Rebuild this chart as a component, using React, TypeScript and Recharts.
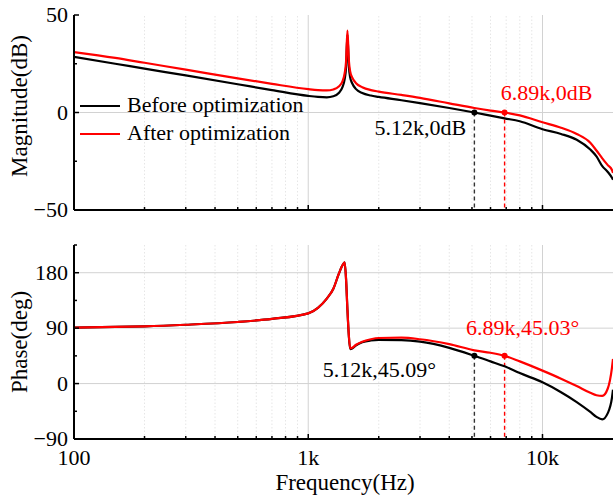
import React from "react";
import {
  Legend,
  Line,
  LineChart,
  ReferenceDot,
  ReferenceLine,
  XAxis,
  YAxis,
} from "recharts";

const freq = [
  100, 150, 200, 300, 500, 700, 1000, 1100, 1200, 1280, 1350, 1400, 1430, 1450,
  1470, 1490, 1510, 1540, 1600, 1700, 1850, 2000, 2500, 3000, 4000, 5120, 6000,
  6890, 8000, 10000, 12000, 14000, 16000, 17000, 18000, 19000, 19800, 20000,
];

const magBefore = [
  28.5, 25, 22.5, 19, 14.5, 11.5, 8.5, 8, 7.8, 8.3, 10, 13, 17, 23, 40, 24, 18,
  15, 12, 10, 8.7, 8, 6.3, 4.8, 2.3, 0, -1.6, -3, -4.5, -8.6, -11, -14, -19,
  -22.5, -27.5, -30.5, -33.5, -34.5,
];

const magAfter = [
  31, 28, 25.5, 22, 17.5, 14.7, 12, 11.5, 11.3, 11.8, 13.3, 16, 20, 26, 42, 27,
  21, 18, 15, 13, 11.5, 10.7, 9, 7.5, 4.7, 2.3, 1, 0, -1.5, -5, -7.8, -11,
  -15.5, -19.5, -23.5, -27, -29.5, -31,
];

const phaseBefore = [
  91, 92, 93, 95.5, 100, 105, 114, 123, 138, 154, 178, 192, 197, 170, 120, 78,
  56, 57, 62, 67, 70, 71, 70.5, 68, 58, 45.09, 36, 28, 17, 2, -14, -30, -46,
  -54, -58, -48, -23, -10,
];

const phaseAfter = [
  91, 92, 93, 95.5, 100, 105, 114, 123, 138, 154, 178, 192, 197, 170, 120, 79,
  57, 58, 63, 68, 72, 74, 74.5, 72, 64, 54, 50, 45.03, 36, 21, 8, -4, -15,
  -19, -20, -8, 26, 40,
];

const xTicks = [
  100, 200, 300, 400, 500, 600, 700, 800, 900, 1000, 2000, 3000, 4000, 5000,
  6000, 7000, 8000, 9000, 10000,
];
const xMajor = [100, 1000, 10000];
const xMinor = xTicks.filter((t) => !xMajor.includes(t));

const magTicks = [-50, -25, 0, 25, 50];
const magLabels = [-50, 0, 50];
const phaseTicks = [-90, -45, 0, 45, 90, 135, 180, 225];
const phaseLabels = [-90, 0, 90, 180];

const crossFreq = [5120, 6890];
const crossPhase = [45.09, 45.03];
const magNotes = ["5.12k,0dB", "6.89k,0dB"];
const phaseNotes = ["5.12k,45.09°", "6.89k,45.03°"];
const colors = ["#000000", "#ff0000"];

const data = freq.map((f, i) => ({
  f,
  magBefore: magBefore[i],
  magAfter: magAfter[i],
  phaseBefore: phaseBefore[i],
  phaseAfter: phaseAfter[i],
}));

const FONT = '"Liberation Serif", "Times New Roman", serif';
const FS = 22;
const TITLE_FS = 23;

const fmtX = (v: number) => (v >= 1000 ? `${v / 1000}k` : `${v}`);
const fmtY = (v: number) => (v < 0 ? `\u2212${-v}` : `${v}`);

function XTick(props: any) {
  const { x, y, payload, side, showLabel } = props;
  const v = payload.value;
  const major = xMajor.includes(v);
  const len = major ? 5 : 3;
  const dir = side === "top" ? 1 : -1;
  return (
    <g>
      <line x1={x} y1={y} x2={x} y2={y + dir * len} stroke="#000" strokeWidth={1.5} />
      {showLabel && major && (
        <text x={x} y={y + 26} textAnchor="middle" fontSize={FS} fontFamily={FONT} fill="#000">
          {fmtX(v)}
        </text>
      )}
    </g>
  );
}

function YTick(props: any) {
  const { x, y, payload, labels } = props;
  const v = payload.value;
  const major = labels.includes(v);
  return (
    <g>
      <line x1={x} y1={y} x2={x + (major ? 5 : 3)} y2={y} stroke="#000" strokeWidth={1.5} />
      {major && (
        <text x={x - 6} y={y + 7} textAnchor="end" fontSize={FS} fontFamily={FONT} fill="#000">
          {fmtY(v)}
        </text>
      )}
    </g>
  );
}

function noteShape(text: string, color: string, dx: number, dy: number) {
  return (p: any) => (
    <g>
      <circle cx={p.cx} cy={p.cy} r={3} fill={color} />
      <text
        x={p.cx + dx}
        y={p.cy + dy}
        textAnchor="middle"
        fontSize={FS}
        fontFamily={FONT}
        fill={color}
      >
        {text}
      </text>
    </g>
  );
}

function LegendBox() {
  return (
    <svg width={260} height={56}>
      <line x1={0} y1={14} x2={40} y2={14} stroke="#000" strokeWidth={2} />
      <text x={47} y={20} fontSize={FS} fontFamily={FONT} fill="#000">
        Before optimization
      </text>
      <line x1={0} y1={42} x2={40} y2={42} stroke="#ff0000" strokeWidth={2} />
      <text x={47} y={48} fontSize={FS} fontFamily={FONT} fill="#000">
        After optimization
      </text>
    </svg>
  );
}

function gridLines(yValues: number[]) {
  return [
    ...xMinor.map((t) => (
      <ReferenceLine key={`m${t}`} x={t} stroke="#e6e6e6" strokeDasharray="1.5 2" strokeWidth={1} />
    )),
    ...xMajor
      .filter((t) => t !== 100)
      .map((t) => <ReferenceLine key={`M${t}`} x={t} stroke="#d2d2d2" strokeWidth={1} />),
    ...yValues.map((v) => <ReferenceLine key={`h${v}`} y={v} stroke="#d2d2d2" strokeWidth={1} />),
  ];
}

const axisLine = { stroke: "#000", strokeWidth: 2 };

function xAxes(showLabel: boolean, height: number) {
  return [
    <XAxis
      key="xb"
      dataKey="f"
      type="number"
      scale="log"
      domain={[100, 20000]}
      allowDataOverflow
      ticks={xTicks}
      interval={0}
      tickSize={0}
      tickMargin={0}
      tickLine={false}
      axisLine={axisLine}
      height={height}
      tick={<XTick side="bottom" showLabel={showLabel} />}
    />,
    <XAxis
      key="xt"
      xAxisId="top"
      orientation="top"
      dataKey="f"
      type="number"
      scale="log"
      domain={[100, 20000]}
      allowDataOverflow
      ticks={xTicks}
      interval={0}
      tickSize={0}
      tickMargin={0}
      tickLine={false}
      axisLine={axisLine}
      height={0}
      tick={<XTick side="top" showLabel={false} />}
    />,
  ];
}

const titleStyle = (cx: number, cy: number, rotate: boolean): React.CSSProperties => ({
  position: "absolute",
  left: cx - 150,
  top: cy - 12,
  width: 300,
  height: 24,
  lineHeight: "24px",
  fontSize: TITLE_FS,
  textAlign: "center",
  transform: rotate ? "rotate(-90deg)" : undefined,
  color: "#000",
});

export default function App() {
  return (
    <div
      style={{
        position: "absolute",
        left: 0,
        top: 0,
        width: 613,
        height: 498,
        background: "#fff",
        fontFamily: FONT,
        overflow: "hidden",
      }}
    >
      <div style={{ position: "absolute", left: 0, top: 0 }}>
        <LineChart width={613} height={225} data={data} margin={{ top: 15, right: 0, bottom: 0, left: 0 }}>
          {gridLines([0])}
          {xAxes(false, 15)}
          <YAxis
            type="number"
            domain={[-50, 50]}
            allowDataOverflow
            ticks={magTicks}
            interval={0}
            width={74}
            tickSize={0}
            tickMargin={0}
            tickLine={false}
            axisLine={axisLine}
            tick={<YTick labels={magLabels} />}
          />
          {crossFreq.map((f, i) => (
            <ReferenceLine
              key={`d${f}`}
              segment={[
                { x: f, y: 0 },
                { x: f, y: -50 },
              ]}
              stroke={i === 0 ? "#333" : colors[i]}
              strokeDasharray="4 3"
              strokeWidth={1.4}
            />
          ))}
          <Line type="monotone" dataKey="magBefore" stroke={colors[0]} strokeWidth={2.2} dot={false} isAnimationActive={false} />
          <Line type="monotone" dataKey="magAfter" stroke={colors[1]} strokeWidth={2.2} dot={false} isAnimationActive={false} />
          <ReferenceDot x={crossFreq[0]} y={0} shape={noteShape(magNotes[0], colors[0], -54, 22)} />
          <ReferenceDot x={crossFreq[1]} y={0} shape={noteShape(magNotes[1], colors[1], 42, -13)} />
          <Legend
            layout="vertical"
            align="center"
            verticalAlign="middle"
            wrapperStyle={{ left: 80, top: 92, width: 260, height: 56 }}
            content={() => <LegendBox />}
          />
        </LineChart>
      </div>
      <div style={{ position: "absolute", left: 0, top: 225 }}>
        <LineChart width={613} height={273} data={data} margin={{ top: 20, right: 0, bottom: 0, left: 0 }}>
          {gridLines([0, 90, 180])}
          {xAxes(true, 59)}
          <YAxis
            type="number"
            domain={[-90, 225]}
            allowDataOverflow
            ticks={phaseTicks}
            interval={0}
            width={74}
            tickSize={0}
            tickMargin={0}
            tickLine={false}
            axisLine={axisLine}
            tick={<YTick labels={phaseLabels} />}
          />
          {crossFreq.map((f, i) => (
            <ReferenceLine
              key={`p${f}`}
              segment={[
                { x: f, y: crossPhase[i] },
                { x: f, y: -90 },
              ]}
              stroke={i === 0 ? "#333" : colors[i]}
              strokeDasharray="4 3"
              strokeWidth={1.4}
            />
          ))}
          <Line type="monotone" dataKey="phaseBefore" stroke={colors[0]} strokeWidth={2.2} dot={false} isAnimationActive={false} />
          <Line type="monotone" dataKey="phaseAfter" stroke={colors[1]} strokeWidth={2.2} dot={false} isAnimationActive={false} />
          <ReferenceDot x={crossFreq[0]} y={crossPhase[0]} shape={noteShape(phaseNotes[0], colors[0], -95, 21)} />
          <ReferenceDot x={crossFreq[1]} y={crossPhase[1]} shape={noteShape(phaseNotes[1], colors[1], 18, -21)} />
        </LineChart>
      </div>
      <div style={titleStyle(20, 106, true)}>Magnitude(dB)</div>
      <div style={titleStyle(20, 342, true)}>Phase(deg)</div>
      <div style={titleStyle(345, 483, false)}>Frequency(Hz)</div>
    </div>
  );
}
